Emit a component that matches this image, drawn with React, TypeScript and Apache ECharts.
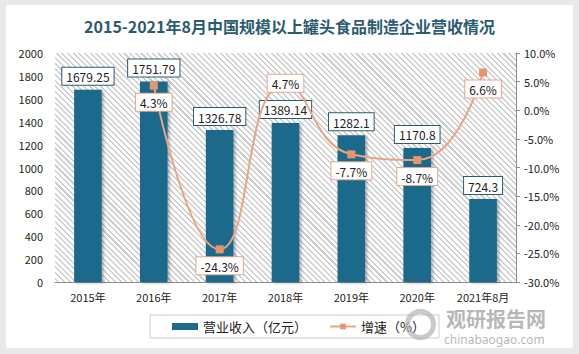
import React, { useEffect, useRef } from "react";
import * as echarts from "echarts";

const categories = ["2015年", "2016年", "2017年", "2018年", "2019年", "2020年", "2021年8月"];
const revenue = [1679.25, 1751.79, 1326.78, 1389.14, 1282.1, 1170.8, 724.3];
const growth = [null, 4.3, -24.3, 4.7, -7.7, -8.7, 6.6];
const growthLabelPos = ["bottom", "bottom", "bottom", "inside", "bottom", "bottom", "bottom"];
const leftTicks = { min: 0, max: 2000, interval: 200 };
const rightTicks = { min: -30, max: 10, interval: 5 };

const GRID = { left: 55, right: 63, top: 53, bottom: 72 };
const W = 579;
const H = 354;

export default function App() {
  const ref = useRef<HTMLDivElement>(null);
  useEffect(() => {
    document.body.style.margin = "0";
    if (!ref.current) return;
    const chart = echarts.init(ref.current, undefined, { renderer: "svg" });
    const font = '"Noto Sans CJK SC", "Noto Sans", sans-serif';
    chart.setOption({
      animation: false,
      backgroundColor: "transparent",
      textStyle: { fontFamily: font },
      title: {
        text: "2015-2021年8月中国规模以上罐头食品制造企业营收情况",
        left: "center",
        top: 13,
        textStyle: { fontSize: 16, fontWeight: "bold", color: "#2b5c6f", fontFamily: font },
      },
      graphic: [
        {
          type: "circle",
          z: 10,
          silent: true,
          left: 405,
          top: 309,
          shape: { r: 13 },
          style: { fill: "none", stroke: "rgba(180,180,180,0.7)", lineWidth: 5 },
        },
        {
          type: "text",
          left: 446,
          top: 308,
          z: 10,
          silent: true,
          style: {
            text: "观研报告网",
            fill: "rgba(170,170,170,0.85)",
            font: 'bold 20px "Noto Sans CJK SC"',
            lineHeight: 20,
          },
        },
        {
          type: "text",
          left: 444,
          top: 333,
          z: 10,
          silent: true,
          style: {
            text: "chinabaogao.com",
            fill: "rgba(170,170,170,0.85)",
            font: '12px "Noto Sans", sans-serif',
            lineHeight: 13,
          },
        },
      ],
      grid: { ...GRID, show: false },
      legend: {
        top: 315,
        left: 150,
        padding: [5, 14, 5, 22],
        borderColor: "#cccccc",
        borderWidth: 1,
        itemGap: 22,
        itemWidth: 26,
        itemHeight: 7,
        textStyle: { fontSize: 13, color: "#222", fontFamily: font },
        data: [
          { name: "营业收入（亿元）", icon: "rect" },
          { name: "增速（%）" },
        ],
      },
      xAxis: {
        type: "category",
        data: categories,
        axisTick: { show: false },
        axisLine: { lineStyle: { color: "#8c8c8c" } },
        axisLabel: { color: "#222", fontSize: 11, margin: 9, interval: 0 },
      },
      yAxis: [
        {
          type: "value",
          ...leftTicks,
          splitLine: { show: false },
          axisLine: { show: false },
          axisTick: { show: false },
          axisLabel: { color: "#222", fontSize: 11, margin: 12, formatter: (v: number) => String(v) },
        },
        {
          type: "value",
          ...rightTicks,
          position: "right",
          splitLine: { show: false },
          axisLine: { show: true, lineStyle: { color: "#8c8c8c" } },
          axisTick: { show: true, length: 4, lineStyle: { color: "#8c8c8c" } },
          axisLabel: {
            color: "#222",
            fontSize: 11,
            margin: 8,
            formatter: (v: number) => v.toFixed(1) + "%",
          },
        },
      ],
      series: [
        {
          name: "营业收入（亿元）",
          type: "bar",
          data: revenue,
          barWidth: "42%",
          itemStyle: {
            color: "#1f6a8b",
            shadowColor: "rgba(0,0,0,0.3)",
            shadowBlur: 3,
            shadowOffsetX: 2,
            shadowOffsetY: 1,
          },
          label: {
            show: true,
            position: "top",
            distance: 5,
            color: "#222",
            fontSize: 12,
            backgroundColor: "#fff",
            borderColor: "#2b5c6f",
            borderWidth: 1,
            padding: [3, 4, 2, 4],
          },
        },
        {
          name: "增速（%）",
          type: "line",
          yAxisIndex: 1,
          smooth: 0.5,
          connectNulls: false,
          symbol: "rect",
          symbolSize: 8,
          data: growth.map((v, i) => ({
            value: v,
            label: { position: growthLabelPos[i] },
          })),
          lineStyle: { color: "#eaa585", width: 2 },
          itemStyle: { color: "#e8956f" },
          label: {
            show: true,
            distance: 4,
            color: "#222",
            fontSize: 12,
            backgroundColor: "#fff",
            borderColor: "#e3a98d",
            borderWidth: 1,
            padding: [3, 4, 2, 4],
            formatter: (p: any) => p.value.toFixed(1) + "%",
          },
        },
      ],
    });
    return () => chart.dispose();
  }, []);
  return (
    <div style={{ position: "relative", width: W, height: H, background: "#e9e9e9" }}>
      <div
        style={{
          position: "absolute",
          left: 6,
          top: 5,
          width: 567,
          height: 343,
          background: "#ffffff",
          borderRadius: 2,
        }}
      />
      <div
        style={{
          position: "absolute",
          left: GRID.left,
          top: GRID.top,
          width: W - GRID.left - GRID.right,
          height: H - GRID.top - GRID.bottom,
          backgroundColor: "#ffffff",
          backgroundImage:
            "repeating-linear-gradient(45deg, #ffffff 0px, #ffffff 2px, #cfcfcf 2px, #cfcfcf 3.5px, #ffffff 3.5px, #ffffff 4px)",
        }}
      />
      <div ref={ref} style={{ position: "absolute", left: 0, top: 0, width: W, height: H }} />
    </div>
  );
}
